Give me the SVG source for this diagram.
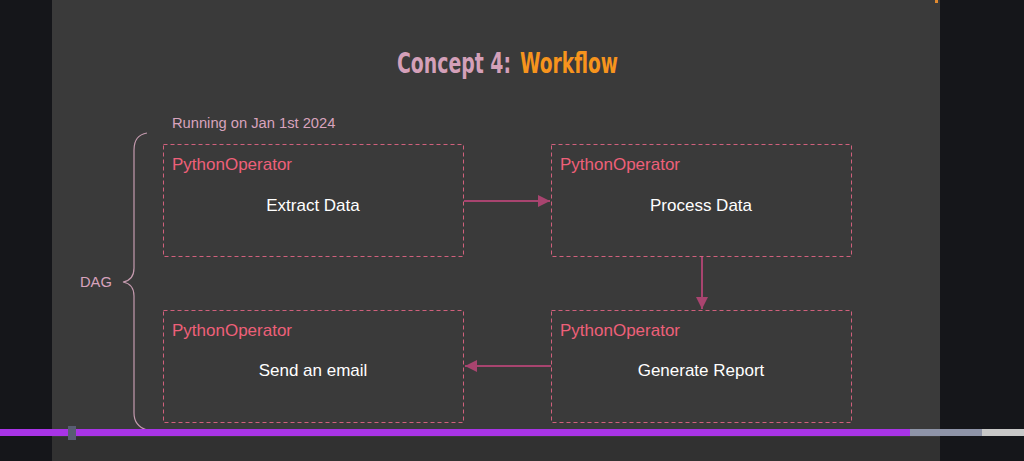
<svg xmlns="http://www.w3.org/2000/svg" width="1024" height="461" viewBox="0 0 1024 461">
<style>
.box{fill:none;stroke:#d0607c;stroke-width:1;stroke-dasharray:4 3}
.op{font-family:"Liberation Sans",Arial,sans-serif;font-size:17px;fill:#ee6079}
.lbl{font-family:"Liberation Sans",Arial,sans-serif;font-size:17px;fill:#ffffff;text-anchor:middle}
.note{font-family:"Liberation Sans",Arial,sans-serif;font-size:14.7px;fill:#d8a3bd}
.ttl{font-family:"DejaVu Sans Condensed","DejaVu Sans",sans-serif;font-weight:bold;font-size:22px}
.conn{stroke:#a8446f;stroke-width:2;fill:none;marker-end:url(#ah)}
</style>
<defs>
<marker id="ah" viewBox="0 0 10 10" refX="10" refY="5" markerWidth="6" markerHeight="6" markerUnits="strokeWidth" orient="auto">
<path d="M0,0 L10,5 L0,10 z" fill="#a8446f"/>
</marker>
</defs>
<rect x="0" y="0" width="1024" height="461" fill="#15161a"/>
<rect x="52" y="0" width="888" height="461" fill="#3a3a3a"/>
<rect x="52" y="437" width="888" height="24" fill="#313131"/>
<rect x="935" y="0" width="3" height="3" fill="#e08a30"/>
<g id="title">
<text class="ttl" transform="translate(397,73) scale(1,1.3)" x="0" y="0" fill="#d4a0b9" textLength="114" lengthAdjust="spacingAndGlyphs">Concept 4:</text>
<text class="ttl" transform="translate(520,73) scale(1,1.3)" x="0" y="0" fill="#f7941d" textLength="98" lengthAdjust="spacingAndGlyphs">Workflow</text>
</g>
<g id="run-label"><text class="note" x="172" y="128">Running on Jan 1st 2024</text></g>
<g id="dag">
<path d="M147,133 Q134,135 134,150 L134,268 Q134,280 123,282 Q134,284 134,296 L134,413 Q134,426 147,430" fill="none" stroke="#c49aae" stroke-width="1.2"/>
<text class="note" x="80" y="287">DAG</text>
</g>
<g id="extract">
<rect class="box" x="163.5" y="144.5" width="300" height="112"/>
<text class="op" x="172" y="170">PythonOperator</text>
<text class="lbl" x="313" y="211">Extract Data</text>
</g>
<g id="process">
<rect class="box" x="551.5" y="144.5" width="300" height="112"/>
<text class="op" x="560" y="170">PythonOperator</text>
<text class="lbl" x="701" y="211">Process Data</text>
</g>
<g id="email">
<rect class="box" x="163.5" y="310.5" width="300" height="112"/>
<text class="op" x="172" y="336">PythonOperator</text>
<text class="lbl" x="313" y="376">Send an email</text>
</g>
<g id="report">
<rect class="box" x="551.5" y="310.5" width="300" height="112"/>
<text class="op" x="560" y="336">PythonOperator</text>
<text class="lbl" x="701" y="376">Generate Report</text>
</g>
<g id="connectors">
<line class="conn" x1="464" y1="201" x2="550" y2="201"/>
<line class="conn" x1="702" y1="257" x2="702" y2="309"/>
<line class="conn" x1="551" y1="366" x2="465" y2="366"/>
</g>
<g id="progress">
<rect x="0" y="429" width="910" height="7" fill="#a834e6"/>
<rect x="910" y="429" width="72" height="7" fill="#8e94a8"/>
<rect x="982" y="429" width="42" height="7" fill="#c8c8c8"/>
<rect x="68" y="426" width="8" height="14" fill="#585d72"/>
</g>
</svg>
